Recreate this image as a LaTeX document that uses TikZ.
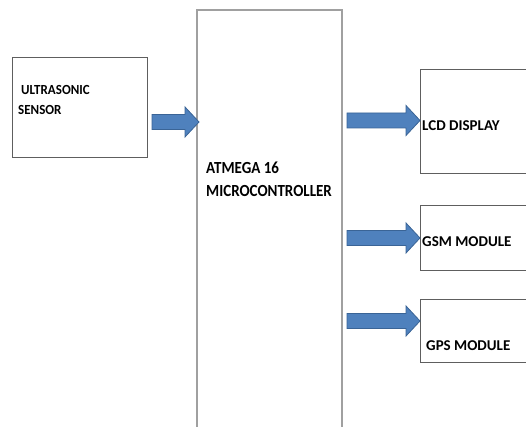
\documentclass[tikz,border=0pt]{standalone}
\usepackage{fontspec}
\setmainfont{Carlito}
\usetikzlibrary{calc}
\definecolor{arrfill}{HTML}{4F81BD}
\definecolor{arrdraw}{HTML}{3A6496}
\definecolor{boxline}{HTML}{5E5E5E}
\definecolor{mculine}{HTML}{A0A0A0}
\tikzset{
  blk/.style={draw=none,inner sep=0pt,outer sep=0pt},
  boxedge/.style={draw=boxline,line width=0.9pt},
  mcuedge/.style={draw=mculine,line width=1.6pt},
  lbl/.style={inner sep=0pt,anchor=base west,font=\bfseries\fontsize{15}{18}\selectfont},
  lblsmall/.style={lbl,font=\bfseries\fontsize{13}{16}\selectfont},
  blockarrow/.style={fill=arrfill,draw=arrdraw,line width=0.8pt,line join=miter}
}
\newcommand{\blockarr}[2]{%
  \draw[blockarrow] ($(#1)+(0,-7.5)$) -- ($(#2)+(-14,-7.5)$) -- ($(#2)+(-14,-15)$)
    -- (#2) -- ($(#2)+(-14,15)$) -- ($(#2)+(-14,7.5)$) -- ($(#1)+(0,7.5)$) -- cycle;}
\newcommand{\tall}[2]{\scalebox{1}[#1]{#2}}
\begin{document}
\begin{tikzpicture}[x=1pt,y=-1pt]
\useasboundingbox (0,0) rectangle (526,427);
% boxes
\node[blk,minimum width=135pt,minimum height=100pt] (us) at (79.5,107) {};
\draw[boxedge] (us.south west) rectangle (us.north east);
\node[blk,minimum width=145pt,minimum height=417pt] (mcu) at (269.5,218.5) {};
\draw[mcuedge] (mcu.south west) -- (mcu.north west) -- (mcu.north east) -- (mcu.south east);
\node[blk,minimum width=106pt,minimum height=104pt] (lcd) at (473,121) {};
\draw[boxedge] (lcd.north east) -- (lcd.north west) -- (lcd.south west) -- (lcd.south east);
\node[blk,minimum width=106pt,minimum height=65pt] (gsm) at (473,237.5) {};
\draw[boxedge] (gsm.north east) -- (gsm.north west) -- (gsm.south west) -- (gsm.south east);
\node[blk,minimum width=106pt,minimum height=63pt] (gps) at (473,330.5) {};
\draw[boxedge] (gps.north east) -- (gps.north west) -- (gps.south west) -- (gps.south east);
% labels
\node[lblsmall] (t1) at (21,95) {\tall{1.07}{ULTRASONIC}};
\node[lblsmall] (t2) at (18,115) {\tall{1.07}{SENSOR}};
\node[lbl] (t3) at (206,174) {\tall{1.13}{ATMEGA 16}};
\node[lbl] (t4) at (206,197) {\tall{1.13}{MICROCONTROLLER}};
\node[lbl] (t5) at (422,131) {LCD DISPLAY};
\node[lbl] (t6) at (422,246) {GSM MODULE};
\node[lbl] (t7) at (426,350) {GPS MODULE};
% arrows
\coordinate (a1s) at (152,122);
\coordinate (a1e) at (199,122);
\coordinate (a2s) at (347,120.5);
\coordinate (a2e) at (lcd.west |- a2s);
\coordinate (a3s) at (347,238);
\coordinate (a3e) at (gsm.west |- a3s);
\coordinate (a4s) at (347,321);
\coordinate (a4e) at (gps.west |- a4s);
\blockarr{a1s}{a1e}
\blockarr{a2s}{a2e}
\blockarr{a3s}{a3e}
\blockarr{a4s}{a4e}
\end{tikzpicture}
\end{document}
